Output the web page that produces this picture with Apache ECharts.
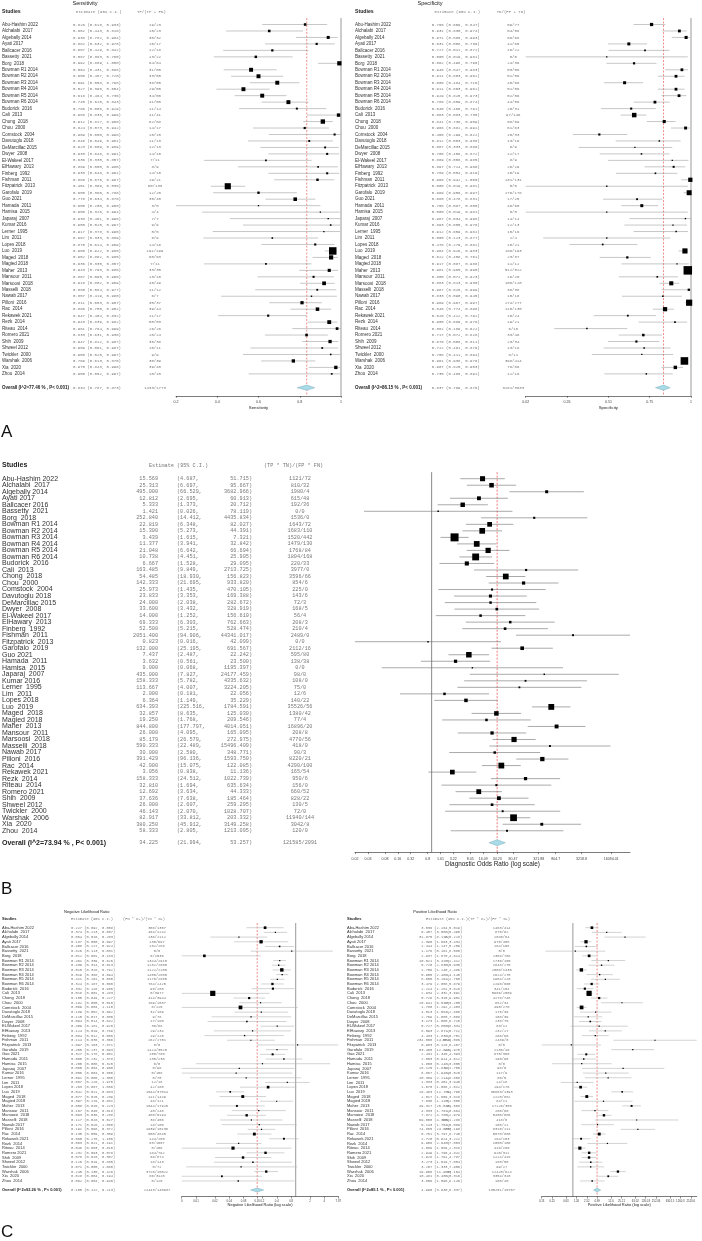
<!DOCTYPE html>
<html><head><meta charset="utf-8">
<script src="https://cdn.jsdelivr.net/npm/echarts@6/dist/echarts.min.js"></script>
<style>html,body{margin:0;padding:0;background:#fff}#c{width:702px;height:1241px}</style>
</head><body><div id="c"></div>
<script>
// ---------------- DATA ----------------
const studies = ["Abu-Hashim 2022","Alchalabi  2017","Algebally 2014","Ayati 2017","Ballcacer 2016","Bassetty  2021","Borg  2018","Bowman R1 2014","Bowman R2 2014","Bowman R3 2014","Bowman R4 2014","Bowman R5 2014","Bowman R6 2014","Budorick  2016","Cali  2013","Chong  2018","Chou  2000","Comstock  2004","Davutoglu 2018","DeMarcillac 2015","Dwyer  2008","El-Wakeel 2017","ElHawary  2013","Finberg  1992","Fishman  2011","Fitzpatrick  2013","Garofalo  2019","Guo 2021","Hamada  2011","Hamisa  2015","Japaraj  2007","Kumar 2016","Lerner  1995","Lim  2011","Lopes 2018","Luo  2019","Maged  2018","Magied 2018","Maher  2013","Mansour  2011","Marsoosi  2018","Masselli  2018","Nawab 2017","Pilloni  2016","Rac  2014","Rekawek 2021","Rezk  2014","Riteau  2014","Romero 2021","Shih  2009","Shweel 2012","Twickler  2000","Warshak  2006","Xia  2020","Zhou  2014"];

const sensEst = [0.826,0.652,0.938,0.882,0.667,0.587,0.992,0.564,0.600,0.691,0.527,0.618,0.745,0.786,0.988,0.912,0.824,0.969,0.846,0.923,0.933,0.636,0.889,0.933,0.886,0.451,0.600,0.778,0.600,0.900,0.938,0.950,0.917,0.667,0.875,0.960,0.952,0.636,0.943,0.867,0.918,0.885,0.857,0.811,0.886,0.647,0.943,0.981,0.833,0.947,0.909,0.950,0.769,0.975,0.955];
const sensLo = [0.618,0.443,0.782,0.632,0.429,0.383,0.889,0.431,0.467,0.558,0.396,0.484,0.615,0.506,0.836,0.817,0.573,0.650,0.549,0.609,0.648,0.335,0.500,0.648,0.676,0.369,0.380,0.634,0.200,0.326,0.461,0.525,0.378,0.333,0.614,0.922,0.862,0.335,0.798,0.595,0.802,0.584,0.419,0.653,0.755,0.404,0.839,0.764,0.631,0.812,0.561,0.525,0.613,0.843,0.552];
const sensHi = [0.933,0.816,0.984,0.970,0.842,0.765,1.000,0.688,0.720,0.798,0.654,0.736,0.843,0.929,0.999,0.960,0.942,0.998,0.961,0.989,0.991,0.857,0.985,0.991,0.967,0.536,0.786,0.876,0.900,0.994,0.996,0.997,0.995,0.889,0.969,0.980,0.985,0.857,0.986,0.966,0.969,0.977,0.980,0.907,0.952,0.832,0.982,0.999,0.936,0.987,0.987,0.997,0.875,0.996,0.997];
const sensCount = ["19/23","15/23","30/32","15/17","12/18","13/22","64/64","31/55","33/55","38/55","29/55","34/55","41/55","11/14","41/41","62/68","14/17","15/15","11/13","12/13","14/15","7/11","8/9","14/15","19/21","60/133","12/20","35/45","3/5","4/4","7/7","9/9","5/5","6/9","14/16","191/199","60/63","7/11","33/35","13/15","45/49","11/12","6/7","30/37","39/44","11/17","50/53","26/26","20/24","36/38","10/11","9/9","30/39","39/40","10/10"];
const sensOverall = [0.834, 0.787, 0.873];
const sensOverallCount = "1433/1773";
const sensOverallLabel = "Overall (I^2=77.46 % , P< 0.001)";

const specEst = [0.766,0.931,0.971,0.631,0.727,0.500,0.662,0.946,0.911,0.606,0.911,0.929,0.786,0.645,0.663,0.841,0.968,0.456,0.812,0.667,0.706,0.889,0.897,0.789,0.996,0.500,0.989,0.680,0.708,0.500,0.967,0.893,0.912,0.500,0.476,0.964,0.622,0.917,0.981,0.800,0.883,0.987,0.833,0.989,0.846,0.625,0.905,0.382,0.717,0.676,0.722,0.708,0.961,0.907,0.735];
const specLo = [0.659,0.830,0.886,0.508,0.511,0.019,0.498,0.847,0.803,0.484,0.803,0.825,0.659,0.466,0.583,0.738,0.882,0.299,0.553,0.333,0.458,0.508,0.724,0.554,0.942,0.019,0.956,0.478,0.587,0.019,0.634,0.605,0.659,0.123,0.279,0.926,0.458,0.587,0.965,0.572,0.813,0.825,0.590,0.967,0.774,0.422,0.689,0.189,0.572,0.508,0.481,0.411,0.938,0.825,0.486];
const specHi = [0.847,0.974,0.993,0.739,0.872,0.981,0.795,0.983,0.962,0.716,0.962,0.973,0.874,0.791,0.735,0.909,0.992,0.622,0.938,0.889,0.872,0.985,0.966,0.919,1.000,0.981,0.997,0.831,0.805,0.981,0.998,0.976,0.982,0.877,0.682,0.983,0.761,0.988,0.990,0.923,0.930,0.999,0.945,0.997,0.898,0.792,0.976,0.622,0.828,0.811,0.879,0.894,0.976,0.953,0.891];
const specCount = ["59/77","54/58","66/68","41/65","16/22","0/0","24/36","53/56","51/56","40/66","51/56","52/56","44/56","20/31","97/146","58/69","61/63","15/33","13/16","6/9","12/17","8/9","26/29","15/19","131/131","0/0","176/178","17/25","46/65","0/0","14/14","12/13","15/16","2/4","10/21","186/193","23/37","11/12","512/522","16/20","106/120","38/38","15/18","274/277","110/130","15/24","19/21","6/16","33/46","23/34","13/18","8/11","398/414","78/86","12/16"];
const specOverall = [0.837, 0.789, 0.876];
const specOverallCount = "3281/3633";
const specOverallLabel = "Overall (I^2=86.15 % , P< 0.001)";

const dorEst = [15.569,25.313,495.000,12.812,5.333,1.421,252.840,22.819,15.300,3.439,11.377,21.048,10.738,6.667,163.485,54.485,142.333,25.973,23.833,24.000,33.600,14.000,69.333,52.500,2051.400,0.823,132.000,7.437,3.632,9.000,435.000,158.333,113.667,2.000,6.364,634.393,32.857,19.250,844.800,26.000,85.179,590.333,30.000,391.429,42.900,3.056,158.333,32.810,12.692,37.636,26.000,46.143,82.917,380.250,58.333];
const dorLo = [4.687,6.697,66.529,2.695,1.373,0.026,14.412,6.348,5.273,1.615,3.941,6.642,4.451,1.528,9.849,18.930,21.695,1.435,3.353,2.038,3.432,1.252,6.303,5.215,94.906,0.016,25.195,2.487,0.561,0.068,7.827,5.782,4.007,0.181,1.149,225.516,8.635,1.768,177.797,4.095,26.579,22.489,2.580,96.136,15.075,0.838,24.512,1.694,3.634,7.638,2.607,2.070,33.812,45.912,2.805];
const dorHi = [51.715,95.667,3682.966,60.913,20.712,78.119,4435.834,82.027,44.391,7.321,32.842,66.694,25.905,29.095,2713.725,156.823,933.820,470.105,169.388,282.672,328.919,156.610,762.663,528.474,44341.017,42.099,691.567,22.242,23.500,1195.397,24177.459,4335.632,3224.205,22.056,35.229,1784.591,125.030,209.546,4014.051,165.095,272.975,15496.409,348.771,1593.750,122.085,11.136,1022.739,635.634,44.333,185.464,259.295,1028.707,203.332,3149.258,1213.095];
const dorCount = ["1121/72","810/32","1980/4","615/48","192/36","0/0","1536/0","1643/72","1683/110","1520/442","1479/130","1768/84","1804/168","220/33","3977/0","3596/66","854/6","225/0","143/6","72/3","168/5","56/4","208/3","210/4","2489/0","0/0","2112/16","595/80","138/38","0/0","98/0","108/0","75/0","12/6","140/22","35526/56","1380/42","77/4","16896/20","208/8","4770/56","418/0","90/3","8220/21","4290/100","165/54","950/6","156/0","660/52","828/22","130/5","72/0","11940/144","3042/8","120/0"];
const dorOverall = [34.225, 21.994, 53.257];
const dorOverallCount = "121585/2091";
const dorOverallLabel = "Overall (I^2=73.94 % , P< 0.001)";

const nlrEst = [0.227,0.374,0.064,0.187,0.458,0.826,0.012,0.461,0.439,0.510,0.519,0.411,0.324,0.332,0.018,0.105,0.182,0.069,0.189,0.115,0.094,0.409,0.124,0.084,0.114,1.097,0.405,0.327,0.565,0.200,0.065,0.056,0.091,0.667,0.263,0.042,0.077,0.397,0.058,0.167,0.093,0.117,0.171,0.191,0.135,0.565,0.063,0.048,0.232,0.078,0.126,0.071,0.240,0.028,0.062];
const nlrLo = [0.092,0.213,0.016,0.050,0.227,0.113,0.001,0.339,0.314,0.328,0.388,0.291,0.187,0.118,0.001,0.049,0.065,0.004,0.052,0.017,0.014,0.181,0.019,0.012,0.036,0.153,0.237,0.178,0.232,0.008,0.004,0.004,0.006,0.226,0.067,0.021,0.025,0.179,0.015,0.045,0.036,0.026,0.028,0.098,0.059,0.276,0.021,0.003,0.093,0.020,0.019,0.005,0.135,0.004,0.004];
const nlrHi = [0.558,0.657,0.253,0.697,0.924,6.031,0.183,0.626,0.613,0.792,0.694,0.580,0.560,0.936,0.283,0.227,0.510,1.110,0.692,0.800,0.642,0.925,0.789,0.566,0.366,7.871,0.693,0.601,1.378,5.320,0.950,0.850,1.300,1.970,1.036,0.083,0.239,0.881,0.223,0.618,0.238,0.527,1.060,0.372,0.309,1.156,0.191,0.810,0.578,0.307,0.835,1.080,0.426,0.194,0.940];
const nlrCount = ["308/1357","464/1242","136/2112","130/697","132/288","0/0","0/1536","1344/2915","1232/2805","1122/2200","1456/2805","1176/2860","784/2420","93/280","0/3977","414/3944","189/1037","0/225","32/169","9/78","17/180","36/88","29/234","19/225","262/2751","0/0","1424/3520","250/765","130/230","0/0","0/98","0/108","0/75","12/18","42/160","1544/37014","111/1449","48/121","1044/17920","40/240","480/5194","38/456","18/105","1939/10138","650/4840","144/255","63/1007","0/156","184/792","68/874","18/143","0/72","3726/15522","86/3120","0/120"];
const nlrOverall = [0.155, 0.112, 0.213];
const nlrOverallCount = "21443/140937";
const nlrOverallLabel = "Overall (I^2=92.26 % , P< 0.001)";

const plrEst = [3.536,9.457,31.875,2.390,2.444,1.176,2.937,10.521,6.720,1.756,5.905,8.655,3.479,2.214,2.934,5.729,25.941,1.780,4.513,2.769,3.173,5.727,8.593,4.433,234.000,0.903,53.400,2.431,2.053,1.800,28.125,8.867,10.389,1.333,1.670,26.463,2.517,7.636,49.317,4.333,7.872,69.000,5.143,74.865,5.761,1.725,9.906,1.589,2.949,2.928,3.273,3.257,19.906,10.481,3.606];
const plrLo = [2.264,3.508,8.113,1.663,1.147,0.161,1.870,3.415,2.835,1.240,2.466,3.291,2.058,1.281,2.332,3.315,6.517,1.292,1.584,1.085,1.500,0.856,2.871,1.836,14.654,0.126,12.846,1.345,0.914,0.248,1.832,1.940,2.214,0.451,1.068,12.781,1.659,1.110,26.540,1.761,4.780,4.363,1.754,24.035,3.797,0.924,2.648,1.089,1.796,1.791,1.519,1.333,11.960,5.400,1.596];
const plrHi = [5.519,25.490,125.228,3.434,5.209,8.585,4.614,32.412,15.930,2.486,14.140,22.760,5.879,3.828,3.691,9.901,103.255,2.453,12.860,7.068,6.710,38.334,25.712,10.701,3726.586,6.467,221.970,4.393,4.612,13.050,431.700,40.520,48.808,3.940,2.612,54.790,3.818,52.550,91.608,10.664,12.979,1091.288,15.089,233.198,8.740,3.222,37.053,2.318,4.842,4.787,7.054,7.956,33.154,20.316,8.146];
const plrCount = ["1463/414","870/92","2040/64","975/408","264/108","0/0","2304/768","1736/165","1848/275","2508/1430","1624/275","1904/220","2296/660","341/154","5986/2009","4278/748","882/34","495/270","176/39","108/39","238/75","63/11","232/27","266/60","2489/0","0/0","2136/40","875/360","195/95","0/0","98/0","117/9","80/5","24/18","294/176","36863/1393","2220/882","84/11","17226/350","260/60","5400/686","418/0","108/21","8310/111","5070/880","264/153","1050/106","416/260","920/312","1224/418","180/55","99/27","12420/624","3354/320","160/40"];
const plrOverall = [4.990, 3.930, 6.337];
const plrOverallCount = "135251/15757";
const plrOverallLabel = "Overall (I^2=85.1 % , P< 0.001)";

// axis ticks / labels
const sensTicks = [0.2, 0.4, 0.6, 0.8, 1];
const sensTickLabels = ["0.2","0.4","0.6","0.8","1"];
const specTicks = [0.019, 0.264, 0.51, 0.755, 1];
const specTickLabels = ["0.02","0.26","0.51","0.75","1"];
const dorTicks = [0.016094,0.032188,0.08047,0.16094,0.32188,0.8047,1.6094,3.2188,8.047,16.094,34.225,80.47,321.88,804.7,3218.8,16094.01];
const dorTickLabels = ["0.02","0.03","0.08","0.16","0.32","0.8","1.61","3.22","8.05","16.09","34.23","80.47","321.88","804.7","3218.8","16094.01"];
const nlrTicks = [0.004,0.008,0.02,0.04,0.08,0.155,0.2,0.4,0.8,2,4,7.871];
const nlrTickLabels = ["0","0.01","0.02","0.04","0.08","0.16","0.2","0.4","0.8","2","4","7.87"];
const plrTicks = [0.126,0.252,0.63,1.26,2.52,4.99,12.6,25.21,63.02,126.03,252.06,630.15,1260.3,2520.6];
const plrTickLabels = ["0.13","0.25","0.63","1.26","2.52","4.99","12.6","25.21","63.02","126.03","252.06","630.15","1260.3","2520.6"];

// ---------------- BUILD ----------------
const SANS = "'Liberation Sans', Arial, sans-serif";
const MONO = "'Liberation Mono', 'Courier New', monospace";
const option = {animation:false, backgroundColor:'#ffffff', grid:[], xAxis:[], yAxis:[], series:[], graphic:[]};

function f3(v){ return v.toFixed(3); }

function addForest(c) {
  const gi = option.grid.length;
  const tf = c.log ? (v => Math.log10(v)) : (v => v);
  const ovRow = (c.ovY - c.y0) / c.step;
  const top = c.y0 - 0.5 * c.step;
  const height = (ovRow + 1) * c.step;
  const xmin = tf(c.min), xmax = tf(c.max);
  const tickPos = c.ticks.map(tf);
  const rowOf = y => (y - c.y0) / c.step;
  option.grid.push({left:c.px0, top:top, width:c.px1 - c.px0, height:height, containLabel:false, outerBoundsMode:'none'});
  option.xAxis.push({
    gridIndex:gi, type:'value', min:xmin, max:xmax, position:'bottom',
    offset: c.axisY - (top + height),
    splitLine:{show:false},
    axisLine:{show:true, onZero:false, lineStyle:{color:'#222', width:0.6}},
    axisTick:{show:true, customValues:tickPos, length:1.8, lineStyle:{color:'#222', width:0.5}},
    axisLabel:{show:true, customValues:tickPos, margin:c.labelMargin, fontSize:c.tickFont, color:'#444', fontFamily:SANS, hideOverlap:false,
      formatter: function(v){ let bi=0, bd=Infinity; tickPos.forEach((p,i)=>{const d=Math.abs(p-v); if(d<bd){bd=d;bi=i;}}); return c.tickLabels[bi]; }},
    name:c.axisTitle, nameLocation:'middle', nameGap:c.nameGap, nameMoveOverlap:false,
    nameTextStyle:{fontSize:c.axisTitleFont, color:'#222', fontFamily:SANS, fontWeight:c.axisTitleWeight || 'normal'}
  });
  option.yAxis.push({gridIndex:gi, type:'value', min:-0.5, max:ovRow + 0.5, inverse:true, show:false});

  // reference lines (null value and pooled estimate)
  const refs = [];
  if (c.nullVal != null) refs.push({v:c.nullVal, color:'#555', dash:null});
  refs.push({v:c.ov[0], color:'#e8413c', dash:[2,1.5]});
  option.series.push({
    type:'custom', xAxisIndex:gi, yAxisIndex:gi, clip:false, silent:true, z:1,
    data: refs.map(r => [tf(r.v), -1]),
    renderItem: function(params, api){
      const r = refs[params.dataIndex];
      const p = api.coord([api.value(0), api.value(1)]);
      return {type:'line', shape:{x1:p[0], y1:p[1], x2:p[0], y2:c.axisY}, style:{stroke:r.color, lineWidth:c.refW, lineDash:r.dash}};
    }
  });

  // square sizes from study weights
  let w;
  if (c.weight === 'n') w = c.count.map(s => +s.split('/')[1]);
  else {
    const wl = c.wLo || c.lo, wh = c.wHi || c.hi;
    w = wl.map((lo,i) => { const se = (Math.log(wh[i]) - Math.log(lo)) / 3.92; return 1/(se*se); });
  }
  const wm = Math.max(...w);
  const sizes = w.map(x => Math.max(c.minSq, c.maxSq * Math.sqrt(x / wm)));

  option.series.push({
    type:'custom', xAxisIndex:gi, yAxisIndex:gi, clip:false, silent:true, z:2,
    data: c.est.map((e,i) => [tf(c.lo[i]), tf(c.hi[i]), tf(e), i, sizes[i]]),
    renderItem: function(params, api){
      const cs = params.coordSys;
      const a = api.coord([api.value(0), api.value(3)]);
      const b = api.coord([api.value(1), api.value(3)]);
      const m = api.coord([api.value(2), api.value(3)]);
      const s = api.value(4);
      const x1 = Math.max(a[0], cs.x), x2 = Math.min(b[0], cs.x + cs.width);
      return {type:'group', children:[
        {type:'line', shape:{x1:x1, y1:a[1], x2:x2, y2:a[1]}, style:{stroke:c.ciColor, lineWidth:c.ciW}},
        {type:'rect', shape:{x:m[0]-s/2, y:m[1]-s/2, width:s, height:s}, style:{fill:'#000'}}
      ]};
    }
  });

  // overall diamond
  option.series.push({
    type:'custom', xAxisIndex:gi, yAxisIndex:gi, clip:false, silent:true, z:3,
    data: [[tf(c.ov[1]), tf(c.ov[2]), tf(c.ov[0]), ovRow]],
    renderItem: function(params, api){
      const a = api.coord([api.value(0), api.value(3)]);
      const b = api.coord([api.value(1), api.value(3)]);
      const m = api.coord([api.value(2), api.value(3)]);
      return {type:'polygon', shape:{points:[[a[0],a[1]],[m[0],m[1]-c.dh],[b[0],b[1]],[m[0],m[1]+c.dh]]},
        style:{fill:'#a8dbe8', stroke:'#6f9fb0', lineWidth:0.4}};
    }
  });

  // text columns
  const items = [];
  const T = (row, x, text, o) => items.push(Object.assign({row:row, x:x, text:text, font:SANS, size:c.nameSize, weight:'normal', color:'#333', align:'left'}, o||{}));
  if (c.title) T(rowOf(c.titleY), c.titleX, c.title, {size:c.titleSize, align:'center', color:'#222'});
  T(rowOf(c.headY), c.nameX, 'Studies', {weight:'bold', size:c.headSize, color:'#222'});
  T(rowOf(c.headY), c.hEstX, 'Estimate (95% C.I.)', {font:MONO, size:c.numSize, color:'#777'});
  T(rowOf(c.headY), c.hCntX, c.countHeader, {font:MONO, size:c.numSize, color:'#777'});
  const numRow = (row, e, lo, hi, cnt) => {
    if (c.cols) {
      T(row, c.cols[0], f3(e), {font:MONO, size:c.numSize, color:'#777', align:'right'});
      T(row, c.cols[1], '(' + f3(lo) + ',', {font:MONO, size:c.numSize, color:'#777'});
      T(row, c.cols[2], f3(hi) + ')', {font:MONO, size:c.numSize, color:'#777', align:'right'});
    } else {
      T(row, c.estX, f3(e) + ' (' + f3(lo) + ', ' + f3(hi) + ')', {font:MONO, size:c.numSize, color:'#777'});
    }
    T(row, c.cntX, cnt, {font:MONO, size:c.numSize, color:'#777', align:'center'});
  };
  c.names.forEach((nm, i) => {
    T(i, c.nameX, nm, {});
    numRow(i, c.est[i], c.lo[i], c.hi[i], c.count[i]);
  });
  T(ovRow, c.nameX, c.ovLabel, {weight:'bold', color:'#222'});
  numRow(ovRow, c.ov[0], c.ov[1], c.ov[2], c.ovCount);

  option.series.push({
    type:'custom', xAxisIndex:gi, yAxisIndex:gi, clip:false, silent:true, z:4,
    data: items.map(t => [xmin, t.row]),
    renderItem: function(params, api){
      const t = items[params.dataIndex];
      const p = api.coord([api.value(0), api.value(1)]);
      return {type:'text', x:t.x, y:p[1], style:{text:t.text, fill:t.color, fontSize:t.size, fontFamily:t.font, fontWeight:t.weight, align:t.align, verticalAlign:'middle'}};
    }
  });
}

// Panel A - Sensitivity
addForest({names:studies, est:sensEst, lo:sensLo, hi:sensHi, count:sensCount, ov:sensOverall, ovCount:sensOverallCount, ovLabel:sensOverallLabel,
  log:false, min:0.2, max:1, ticks:sensTicks, tickLabels:sensTickLabels, nullVal:1, weight:'n',
  px0:176, px1:341, y0:24.5, step:6.47, ovY:387.7, axisY:396, labelMargin:4.3, tickFont:3.6, nameGap:9.5, axisTitle:'Sensitivity', axisTitleFont:4.3,
  title:'Sensitivity', titleX:85, titleY:3.8, titleSize:5.6, headY:12, headSize:5.2, nameX:2, nameSize:4.5, numSize:4,
  estX:73, cntX:155, hEstX:76, hCntX:137, countHeader:'TP/(TP + FN)',
  ciColor:'#8f8f8f', ciW:0.5, refW:0.6, maxSq:7.5, minSq:1.3, dh:2.6});

// Panel A - Specificity
addForest({names:studies, est:specEst, lo:specLo, hi:specHi, count:specCount, ov:specOverall, ovCount:specOverallCount, ovLabel:specOverallLabel,
  log:false, min:0.019, max:1, ticks:specTicks, tickLabels:specTickLabels, nullVal:1, weight:'n',
  px0:525.7, px1:691, y0:24.5, step:6.47, ovY:387.7, axisY:396, labelMargin:4.3, tickFont:3.6, nameGap:9.5, axisTitle:'Specificity', axisTitleFont:4.3,
  title:'Specificity', titleX:430, titleY:3.8, titleSize:5.6, headY:12, headSize:5.2, nameX:355, nameSize:4.5, numSize:4,
  estX:431.7, cntX:513.3, hEstX:434.5, hCntX:496.7, countHeader:'TN/(FP + TN)',
  ciColor:'#8f8f8f', ciW:0.5, refW:0.6, maxSq:8.5, minSq:1.3, dh:2.6});

// Panel B - DOR
addForest({names:studies, est:dorEst, lo:dorLo, hi:dorHi, count:dorCount, ov:dorOverall, ovCount:dorOverallCount, ovLabel:dorOverallLabel,
  log:true, min:0.016, max:44341.017, ticks:dorTicks, tickLabels:dorTickLabels, nullVal:1, weight:'iv',
  px0:355, px1:630, y0:478.7, step:6.52, ovY:842.7, axisY:852.3, labelMargin:4.4, tickFont:3.6, nameGap:9, axisTitle:'Diagnostic Odds Ratio (log scale)', axisTitleFont:6.4,
  title:'', titleX:0, titleY:460, titleSize:1, headY:465.3, headSize:7, nameX:2, nameSize:7, numSize:5.2,
  cols:[158,177,252], cntX:300, hEstX:149, hCntX:264, countHeader:'(TP * TN)/(FP * FN)',
  ciColor:'#707070', ciW:0.6, refW:0.7, maxSq:8, minSq:1.4, dh:3});

// Panel C - Negative LR (marker weights as in the reference, which follow the positive-LR precision)
addForest({names:studies, est:nlrEst, lo:nlrLo, hi:nlrHi, count:nlrCount, ov:nlrOverall, ovCount:nlrOverallCount, ovLabel:nlrOverallLabel,
  log:true, min:0.004, max:7.871, ticks:nlrTicks, tickLabels:nlrTickLabels, nullVal:1, weight:'iv', wLo:plrLo, wHi:plrHi,
  px0:181.7, px1:338.3, y0:927.7, step:4.69, ovY:1190, axisY:1196.7, labelMargin:2.6, tickFont:2.8, nameGap:6.2, axisTitle:'Negative Likelihood Ratio (log scale)', axisTitleFont:4,
  title:'Negative Likelihood Ratio', titleX:86.7, titleY:912.3, titleSize:4, headY:919, headSize:4, nameX:2, nameSize:4, numSize:3.7,
  estX:71, cntX:157, hEstX:71, hCntX:123, countHeader:'(FN * D-)/(TN * D+)',
  ciColor:'#b5b5b5', ciW:0.6, refW:0.6, maxSq:5.2, minSq:1.2, dh:2});

// Panel C - Positive LR
addForest({names:studies, est:plrEst, lo:plrLo, hi:plrHi, count:plrCount, ov:plrOverall, ovCount:plrOverallCount, ovLabel:plrOverallLabel,
  log:true, min:0.126, max:3726.586, ticks:plrTicks, tickLabels:plrTickLabels, nullVal:1, weight:'iv',
  px0:541.7, px1:696.7, y0:927.7, step:4.69, ovY:1190, axisY:1196.7, labelMargin:2.6, tickFont:2.8, nameGap:6.2, axisTitle:'Positive Likelihood Ratio (log scale)', axisTitleFont:4,
  title:'Positive Likelihood Ratio', titleX:435, titleY:912.3, titleSize:4, headY:919, headSize:4, nameX:347, nameSize:4, numSize:3.7,
  cols:[432.3,434.3,462.3], cntX:501.7, hEstX:426, hCntX:468, countHeader:'(TP * D-)/(FP * D+)',
  ciColor:'#b5b5b5', ciW:0.6, refW:0.6, maxSq:5.2, minSq:1.2, dh:2});

// panel letters
[['A',432],['B',889],['C',1232]].forEach(([t,y]) => option.graphic.push({type:'text', left:1, top:y-8, style:{text:t, fontSize:17, fontFamily:SANS, fill:'#111'}}));

const chart = echarts.init(document.getElementById('c'), null, {renderer:'canvas', width:702, height:1241});
chart.setOption(option);
</script>
</body></html>
